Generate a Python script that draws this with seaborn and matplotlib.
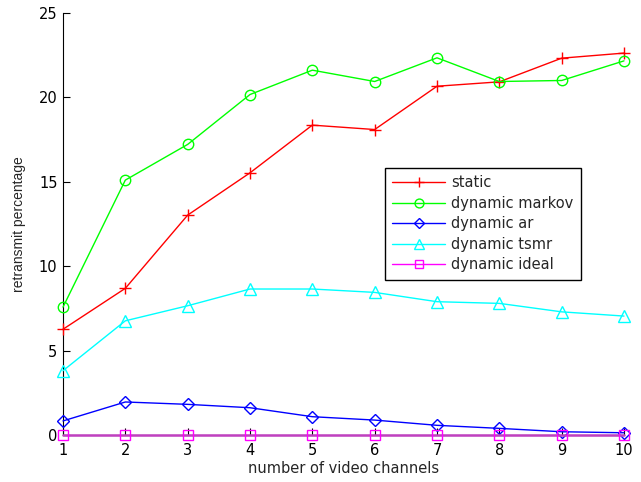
import matplotlib
matplotlib.use("Agg")
import matplotlib.pyplot as plt
import seaborn as sns
import pandas as pd

channels = [1, 2, 3, 4, 5, 6, 7, 8, 9, 10]
static = [6.27, 8.69, 13.02, 15.52, 18.34, 18.08, 20.64, 20.9, 22.3, 22.6]
dynamic_markov = [7.58, 15.09, 17.2, 20.15, 21.59, 20.92, 22.32, 20.92, 20.98, 22.14]
dynamic_ar = [0.85, 1.97, 1.83, 1.63, 1.10, 0.90, 0.59, 0.41, 0.21, 0.15]
dynamic_tsmr = [3.82, 6.77, 7.66, 8.65, 8.65, 8.45, 7.90, 7.80, 7.30, 7.05]
dynamic_ideal = [0, 0, 0, 0, 0, 0, 0, 0, 0, 0]

labels = ["static", "dynamic markov", "dynamic ar", "dynamic tsmr", "dynamic ideal"]
series = [static, dynamic_markov, dynamic_ar, dynamic_tsmr, dynamic_ideal]
colors = ["#ff0000", "#00ff00", "#0000ff", "#00ffff", "#ff00ff"]
markers = ["+", "o", "D", "^", "s"]
msizes = [9, 7.5, 6.5, 8.5, 7.5]

sns.set_style("ticks")
plt.rcParams['font.family'] = ['DejaVu Sans']

fig = plt.figure(figsize=(6.41, 4.82), dpi=100)
ax = fig.add_axes([63/641, 1-435.3/482, (624-63)/641, (435.3-12.5)/482])

lines = []
for lab, vals, c, m, ms in zip(labels, series, colors, markers, msizes):
    df = pd.DataFrame({"x": channels, "y": vals})
    n0 = len(ax.lines)
    sns.lineplot(data=df, x="x", y="y", ax=ax, color=c, marker=m, markersize=ms,
                 markerfacecolor="none", markeredgecolor=c, markeredgewidth=1.0,
                 linewidth=1.0, label=lab, clip_on=False, zorder=3)
    lines.append(ax.lines[n0])

ax.set_xlim(1, 10)
ax.set_ylim(0, 25)
ax.set_xticks(channels)
ax.set_yticks([0, 5, 10, 15, 20, 25])
ax.tick_params(direction="in", length=5, width=0.8, labelsize=10.5, colors="black")
ax.tick_params(axis="x", pad=5.5)
ax.tick_params(axis="y", pad=4)
for s in ["top", "right"]:
    ax.spines[s].set_visible(False)
for s in ["left", "bottom"]:
    ax.spines[s].set_color("black")
    ax.spines[s].set_linewidth(0.8)
ax.set_xlabel("number of video channels", fontsize=10.5, labelpad=2)
ax.set_ylabel("retransmit percentage", fontsize=10, labelpad=9,
              family=['Liberation Sans', 'DejaVu Sans'])

leg = ax.legend(loc="upper left", bbox_to_anchor=(385/641, 1-168/482),
                bbox_transform=fig.transFigure, borderaxespad=0, fancybox=False,
                edgecolor="black", framealpha=1, fontsize=10.5, handlelength=3.6,
                handletextpad=0.45, labelspacing=0.38, borderpad=0.5, markerscale=0.85)
leg.get_frame().set_linewidth(1.0)

# ideal line looks purple and thicker where it overlays the x axis
lines[4].set_color("#c040c0")
lines[4].set_linewidth(1.8)
lines[4].set_markeredgecolor("#ff00ff")

fig.savefig("out.png", dpi=100)
